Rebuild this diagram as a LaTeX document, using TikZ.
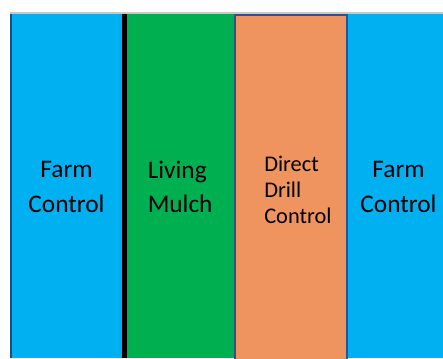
\documentclass[tikz,border=0pt]{standalone}
\usepackage{fontspec}
\setmainfont{Carlito}
\usepackage{tikz}
\usetikzlibrary{calc}

\begin{document}
\begin{tikzpicture}[x=0.75pt,y=0.75pt,yscale=-1,xscale=1,
    strip/.style={draw=none,fill={rgb, 255:red, 0; green, 176; blue, 240 }},
    biglabel/.style={inner sep=0pt,font=\fontsize{19}{26}\selectfont},
    smalllabel/.style={inner sep=0pt,font=\fontsize{16.8}{19.5}\selectfont}]
%set diagram to 443 x 358
\useasboundingbox (0,0) rectangle (443,358);
\fill [white] (0,0) rectangle (443,358);

%Top edge line
\draw [color={rgb, 255:red, 200; green, 200; blue, 200 }, line width=1.5] (10,13.3) -- (443,13.3);
%Rectangle (left farm control)
\fill [strip] (10,14) rectangle (122,358);
\draw [color={rgb, 255:red, 31; green, 78; blue, 121 }, line width=1.5] (11,14) -- (11,358);
%Rectangle (living mulch)
\fill [color={rgb, 255:red, 0; green, 176; blue, 80 }] (122,14) rectangle (235,358);
%Thick black divider
\draw [color=black, line width=3.8] (124.2,14) -- (124.2,358);
%Rectangle (right farm control)
\fill [strip] (347,14) rectangle (443,358);
%Rectangle (direct drill control)
\draw [color={rgb, 255:red, 47; green, 82; blue, 143 }, fill={rgb, 255:red, 240; green, 148; blue, 95 }, line width=1.5] (235,14.5) -- (347,14.5) -- (347,360) -- (235,360) -- cycle;

% Text Node
\node (farmL) [biglabel, align=center] at (66.5,187) {Farm\\Control};
% Text Node
\node (mulch) [biglabel, align=left, anchor=west] at (147.5,187) {Living\\Mulch};
% Text Node
\node (drill) [smalllabel, align=left, anchor=west] at (264,190) {Direct\\Drill\\Control};
% Text Node
\node (farmR) [biglabel, align=center] at (398.5,187) {Farm\\Control};
\end{tikzpicture}
\end{document}
